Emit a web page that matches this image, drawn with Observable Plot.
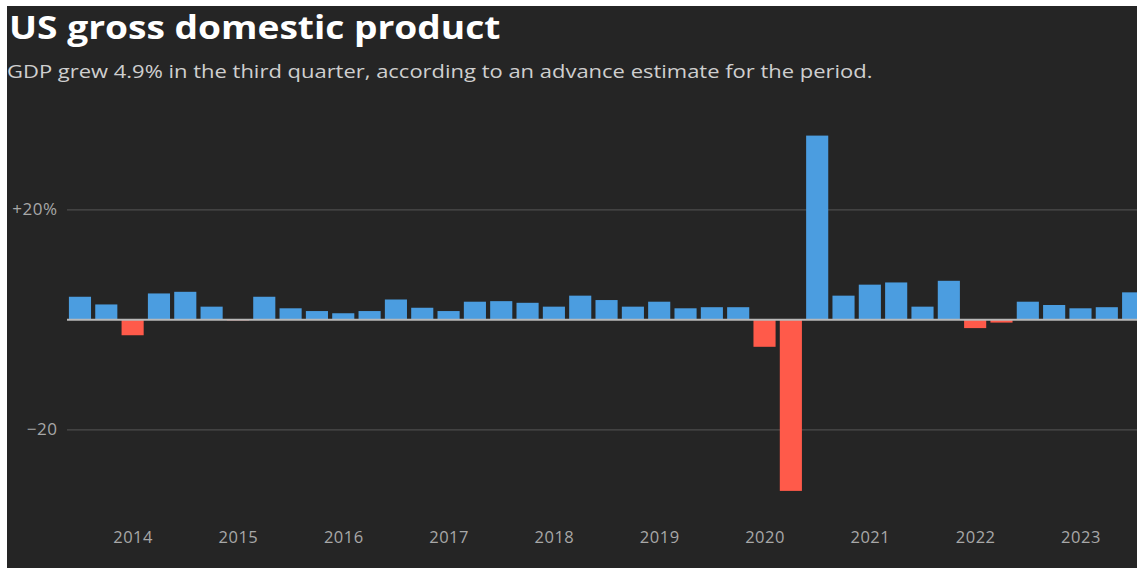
<!DOCTYPE html>
<html>
<head>
<meta charset="utf-8">
<script src="https://cdn.jsdelivr.net/npm/d3@7"></script>
<script src="https://cdn.jsdelivr.net/npm/@observablehq/plot@0.6"></script>
<style>
  html, body { margin: 0; padding: 0; background: #ffffff; overflow: hidden; }
  #frame { position: absolute; left: 7px; top: 6px; width: 1130px; height: 562px; background: #252525; font-family: "Open Sans", sans-serif; }
  #title { position: absolute; left: 2px; top: -2px; color: #ffffff; font-weight: 700; font-size: 33px; white-space: nowrap; transform: scaleX(1.125); transform-origin: 0 0; }
  #subtitle { position: absolute; left: 0px; top: 53px; color: #cfcfcf; font-size: 17.5px; white-space: nowrap; transform: scaleX(1.255); transform-origin: 0 0; }
  #chart { position: absolute; left: 0px; top: 94px; width: 1130px; height: 468px; }
  #chart svg { overflow: hidden; display: block; }
  #chart svg text { letter-spacing: 0.5px; }
</style>
</head>
<body>
<div id="frame">
  <div id="title">US gross domestic product</div>
  <div id="subtitle">GDP grew 4.9% in the third quarter, according to an advance estimate for the period.</div>
  <div id="chart"></div>
</div>
<script>
const quarters = [
  "2013 Q3","2013 Q4",
  "2014 Q1","2014 Q2","2014 Q3","2014 Q4",
  "2015 Q1","2015 Q2","2015 Q3","2015 Q4",
  "2016 Q1","2016 Q2","2016 Q3","2016 Q4",
  "2017 Q1","2017 Q2","2017 Q3","2017 Q4",
  "2018 Q1","2018 Q2","2018 Q3","2018 Q4",
  "2019 Q1","2019 Q2","2019 Q3","2019 Q4",
  "2020 Q1","2020 Q2","2020 Q3","2020 Q4",
  "2021 Q1","2021 Q2","2021 Q3","2021 Q4",
  "2022 Q1","2022 Q2","2022 Q3","2022 Q4",
  "2023 Q1","2023 Q2","2023 Q3"
];
const growth = [
  4.1, 2.7,
  -2.9, 4.7, 5.0, 2.3,
  -0.2, 4.1, 2.0, 1.5,
  1.1, 1.5, 3.6, 2.1,
  1.5, 3.2, 3.3, 3.0,
  2.3, 4.3, 3.5, 2.3,
  3.2, 2.0, 2.2, 2.2,
  -5.0, -31.2, 33.4, 4.3,
  6.3, 6.7, 2.3, 7.0,
  -1.6, -0.6, 3.2, 2.6,
  2.0, 2.2, 4.9
];
const yearTicks = ["2014 Q1","2015 Q1","2016 Q1","2017 Q1","2018 Q1","2019 Q1","2020 Q1","2021 Q1","2022 Q1","2023 Q1"];
const yTicks = [20, -20];

const data = quarters.map((q, i) => ({quarter: q, value: growth[i]}));

const chart = Plot.plot({
  width: 1130,
  height: 468,
  marginLeft: 60,
  marginRight: 0,
  marginTop: 0,
  marginBottom: 40,
  style: {background: "transparent", fontFamily: "Open Sans, sans-serif", overflow: "hidden"},
  x: {type: "band", domain: quarters, range: [59.8, 1139.3], paddingInner: 0.16, paddingOuter: 0.08, round: false, label: null},
  y: {domain: [-40, 40], range: [439.3, -0.7], label: null},
  marks: [
    Plot.ruleY(yTicks, {stroke: "#4c4c4c", strokeWidth: 1.2}),
    Plot.barY(data, {
      x: "quarter",
      y: "value",
      fill: d => d.value < 0 ? "#ff5a4a" : "#4b9de0"
    }),
    Plot.ruleY([0], {stroke: "#b8b8b8", strokeWidth: 2}),
    Plot.axisY(yTicks, {
      tickSize: 0, tickPadding: 10, fontSize: 17, fill: "#a8a8a8", label: null,
      tickFormat: d => d > 0 ? `+${d}%` : `\u2212${Math.abs(d)}`
    }),
    Plot.axisX(yearTicks, {
      tickSize: 0, tickPadding: 3, fontSize: 16.5, fill: "#a8a8a8", label: null,
      tickFormat: d => d.slice(0, 4)
    })
  ]
});
document.getElementById("chart").appendChild(chart);
</script>
</body>
</html>
